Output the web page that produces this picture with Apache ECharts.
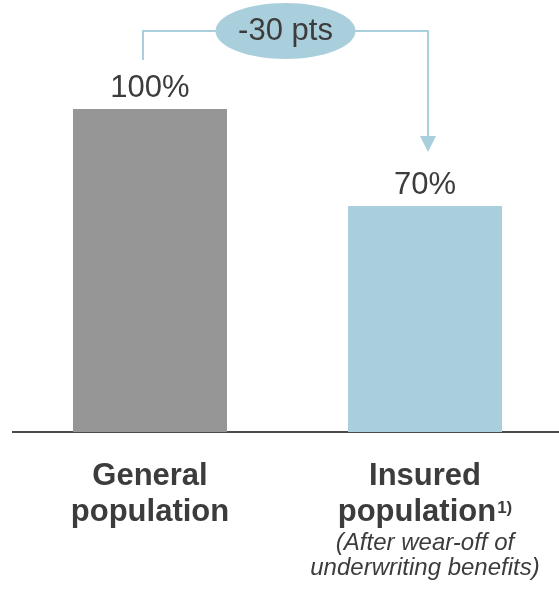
<!DOCTYPE html>
<html>
<head>
<meta charset="utf-8">
<style>
  html, body { margin: 0; padding: 0; background: #ffffff; }
  #chart { width: 559px; height: 590px; }
</style>
<script src="https://cdn.jsdelivr.net/npm/echarts@6/dist/echarts.min.js"></script>
</head>
<body>
<div id="chart"></div>
<script>
// Chart data
const categories = ['General\npopulation', 'Insured\npopulation'];
const footnoteMarks = ['', '1)'];
const categoryNotes = ['', '(After wear-off of\nunderwriting benefits)'];
const values = [100, 70];
const barColors = ['#969696', '#aacfdc'];
const changeLabel = '-30 pts';

const FONT = '"Liberation Sans", Arial, Helvetica, sans-serif';
const TEXT = '#3c3c3c';
const ACCENT = '#a9cedc';

const chart = echarts.init(document.getElementById('chart'), null, { renderer: 'canvas' });

// Bold category name, optional superscript footnote mark, optional italic note
function categoryLabel(value, idx) {
  const parts = value.split('\n');
  const lines = parts.map((s, i) => (i === parts.length - 1 ? '{b2|' : '{b|') + s + '}');
  if (footnoteMarks[idx]) {
    lines[lines.length - 1] += '{sup|' + footnoteMarks[idx] + '}';
  }
  if (categoryNotes[idx]) {
    categoryNotes[idx].split('\n').forEach(s => lines.push('{it|' + s + '}'));
  }
  return lines.join('\n');
}

chart.setOption({
  animation: false,
  backgroundColor: '#ffffff',
  grid: { left: 150, right: 134, top: 109, bottom: 158, containLabel: false },
  xAxis: {
    type: 'category',
    data: categories,
    boundaryGap: false,
    axisTick: { show: false },
    axisLine: { show: false },
    axisLabel: {
      interval: 0,
      margin: 27,
      formatter: categoryLabel,
      rich: {
        b: { fontFamily: FONT, fontSize: 31, fontWeight: 'bold', color: TEXT, lineHeight: 34 },
        b2: { fontFamily: FONT, fontSize: 31, fontWeight: 'bold', color: TEXT, lineHeight: 38 },
        sup: { fontFamily: FONT, fontSize: 17, fontWeight: 'bold', color: TEXT, lineHeight: 17, verticalAlign: 'top', padding: [7, 0, 0, 1] },
        it: { fontFamily: FONT, fontSize: 24, fontStyle: 'italic', color: TEXT, lineHeight: 25 }
      }
    }
  },
  yAxis: {
    type: 'value',
    min: 0,
    max: 100,
    show: false,
    splitLine: { show: false }
  },
  series: [{
    type: 'bar',
    clip: false,
    data: values.map((v, i) => ({ value: v, itemStyle: { color: barColors[i] } })),
    barWidth: 154,
    label: {
      show: true,
      position: 'top',
      distance: 5,
      formatter: '{c}%',
      fontFamily: FONT,
      fontSize: 31,
      color: TEXT
    }
  }]
});

// Baseline across the full width, and the bracket connecting the two bars
function drawDecorations() {
  const base = chart.convertToPixel({ seriesIndex: 0 }, [0, 0]);
  const p0 = chart.convertToPixel({ seriesIndex: 0 }, [0, values[0]]);
  const p1 = chart.convertToPixel({ seriesIndex: 0 }, [1, values[1]]);
  const xL = p0[0] - 7;
  const xR = p1[0] + 3;
  const yTop = 31;
  const yLeftEnd = p0[1] - 49;
  const yTip = p1[1] - 54;
  const headH = 16, headW = 8;
  const cx = (xL + xR) / 2;

  chart.setOption({
    graphic: [
      {
        type: 'line',
        shape: { x1: 12, y1: base[1], x2: 559, y2: base[1] },
        style: { stroke: '#4a4a4a', lineWidth: 2 },
        silent: true
      },
      {
        type: 'polyline',
        shape: { points: [[xL, yLeftEnd], [xL, yTop], [xR, yTop], [xR, yTip - headH]] },
        style: { stroke: ACCENT, lineWidth: 2, fill: null },
        silent: true
      },
      {
        type: 'polygon',
        shape: { points: [[xR - headW, yTip - headH], [xR + headW, yTip - headH], [xR, yTip]] },
        style: { fill: ACCENT },
        silent: true
      },
      {
        type: 'ellipse',
        shape: { cx: cx, cy: yTop, rx: 70, ry: 28 },
        style: { fill: '#aacfdc' },
        silent: true
      },
      {
        type: 'text',
        x: cx,
        y: yTop,
        style: {
          text: changeLabel,
          fontFamily: FONT,
          fontSize: 31,
          fill: TEXT,
          align: 'center',
          verticalAlign: 'middle'
        },
        silent: true
      }
    ]
  });
}
drawDecorations();
</script>
</body>
</html>
